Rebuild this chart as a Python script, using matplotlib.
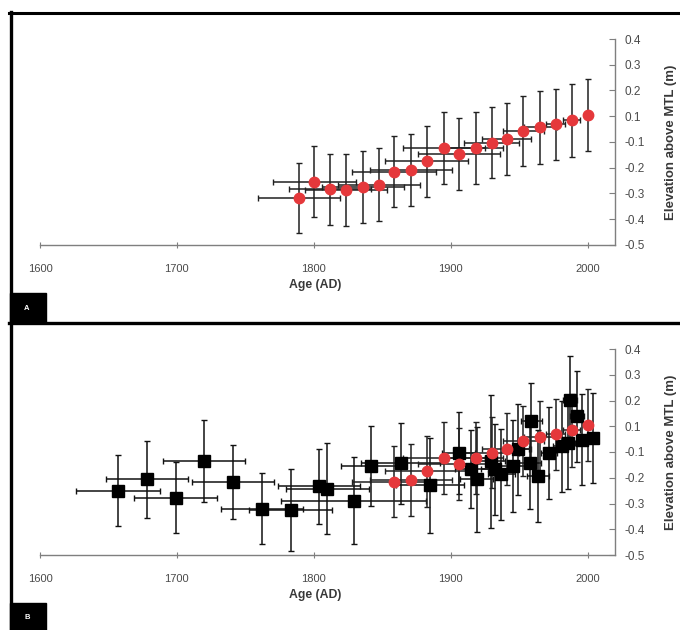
import matplotlib
matplotlib.use("Agg")
import matplotlib.pyplot as plt
from matplotlib.lines import Line2D
from matplotlib.patches import Rectangle
import numpy as np

plt.rcParams['font.family'] = ['Liberation Sans', 'DejaVu Sans']

# ---- Data: reconstructed sea level (red circles) ----
red_age = [1789, 1800.5, 1811.7, 1823.7, 1835.9, 1847.6, 1858.5, 1870.7, 1882.4, 1895,
           1906.3, 1918.3, 1929.8, 1941, 1953, 1965.4, 1976.8, 1988.3, 2000]
red_elev = [-0.295, -0.223, -0.256, -0.259, -0.246, -0.237, -0.180, -0.172, -0.134, -0.076,
            -0.102, -0.076, -0.054, -0.037, -0.001, 0.015, 0.028, 0.044, 0.068]
red_yerr = [0.154, 0.156, 0.155, 0.157, 0.156, 0.159, 0.155, 0.157, 0.156, 0.159,
            0.159, 0.156, 0.155, 0.159, 0.153, 0.159, 0.155, 0.160, 0.158]
red_xerr = [30, 30.5, 30, 30, 30, 30, 30.7, 30, 30.5, 30,
            30, 20, 20, 18, 15, 12, 7, 6, 0]
# points shown again in panel B (index from 1858 onward)
red_b_start = 6

# ---- Data: other records (black squares, panel B) ----
blk_age = [1657, 1678, 1699, 1720, 1741, 1762, 1783, 1804, 1810, 1829,
           1842, 1863.5, 1885, 1906, 1915, 1919, 1929.5, 1932, 1937, 1945.6,
           1949, 1958, 1959, 1964, 1972, 1981, 1986, 1987, 1992, 1996, 2004]
blk_elev = [-0.220, -0.170, -0.249, -0.090, -0.181, -0.297, -0.304, -0.200, -0.210, -0.262,
            -0.112, -0.100, -0.196, -0.054, -0.126, -0.170, -0.090, -0.126, -0.148, -0.112,
            -0.039, -0.097, 0.084, -0.155, -0.054, -0.025, -0.010, 0.178, 0.106, 0.004, 0.012]
blk_yerr = [0.155, 0.170, 0.157, 0.179, 0.161, 0.156, 0.179, 0.165, 0.200, 0.190,
            0.174, 0.176, 0.209, 0.180, 0.170, 0.230, 0.290, 0.200, 0.200, 0.200,
            0.200, 0.200, 0.167, 0.200, 0.200, 0.200, 0.200, 0.190, 0.200, 0.200, 0.196]
blk_xerr = [30.5, 30, 30.5, 30, 30, 30, 30.5, 30, 30, 53,
            22, 29, 25, 12, 12, 12, 10, 10, 10, 10,
            8, 8, 8, 8, 6, 6, 5, 5, 5, 4, 3]

x_ticks = [1600, 1700, 1800, 1900, 2000]
y_ticks = list(np.linspace(-0.5, 0.4, 9))
y_ticklabels = ['-0.5', '-0.4', '-0.3', '-0.2', '-0.1', '0.1', '0.2', '0.3', '0.4']

W, H = 680, 630
fig = plt.figure(figsize=(W / 100, H / 100), dpi=100)
fig.patch.set_facecolor('white')

RED = '#e5383b'
GRAY = '#7f7f7f'
TXT = '#4a4a4a'


def fx(px):
    return px / W


def fy(py):
    return 1 - py / H


def style_axes(ax):
    ax.set_xlim(1600, 2020)
    ax.set_ylim(-0.5, 0.4)
    for s in ['top', 'left']:
        ax.spines[s].set_visible(False)
    for s in ['bottom', 'right']:
        ax.spines[s].set_color(GRAY)
        ax.spines[s].set_linewidth(1.0)
    ax.yaxis.tick_right()
    ax.yaxis.set_label_position('right')
    ax.set_xticks(x_ticks)
    ax.set_xticklabels([str(t) for t in x_ticks])
    ax.set_yticks(y_ticks)
    ax.set_yticklabels(y_ticklabels)
    ax.tick_params(axis='x', direction='inout', length=5, color=GRAY, pad=11,
                   labelsize=8, labelcolor=TXT)
    ax.tick_params(axis='y', direction='in', length=4, color=GRAY, pad=7,
                   labelsize=8.5, labelcolor=TXT)
    ax.set_xlabel('Age (AD)', fontsize=8.8, fontweight='bold', color='#383838')
    ax.xaxis.set_label_coords(0.478, -0.165)
    ax.set_ylabel('Elevation above MTL (m)', fontsize=9.5, fontweight='bold',
                  color='#383838', rotation=90, labelpad=14)
    ax.patch.set_alpha(0)


def draw_red(ax, start=0):
    ax.errorbar(red_age[start:], red_elev[start:], yerr=red_yerr[start:],
                xerr=red_xerr[start:], fmt='none', ecolor='#202020',
                elinewidth=1.1, capsize=2.2, capthick=1.0, zorder=3)
    ax.plot(red_age[start:], red_elev[start:], 'o', color=RED, markersize=7.5,
            markeredgecolor=RED, zorder=6, linestyle='none')


# Panel A
axA = fig.add_axes([fx(40), fy(245), fx(615) - fx(40), fy(39) - fy(245)])
style_axes(axA)
draw_red(axA)

# Panel B
axB = fig.add_axes([fx(40), fy(555), fx(615) - fx(40), fy(349) - fy(555)])
style_axes(axB)
axB.errorbar(blk_age, blk_elev, yerr=blk_yerr, xerr=blk_xerr, fmt='none',
             ecolor='#111111', elinewidth=1.1, capsize=2.2, capthick=1.0, zorder=2)
axB.plot(blk_age, blk_elev, 's', color='black', markersize=8, zorder=4,
         linestyle='none')
draw_red(axB, red_b_start)


# Frame lines and panel labels
def hline(y, x0, x1, lw):
    fig.add_artist(Line2D([fx(x0), fx(x1)], [fy(y), fy(y)], color='black',
                          linewidth=lw, transform=fig.transFigure))


def vline(x, y0, y1, lw):
    fig.add_artist(Line2D([fx(x), fx(x)], [fy(y0), fy(y1)], color='black',
                          linewidth=lw, transform=fig.transFigure))


hline(12.5, 9, 680, 2.2)
hline(323, 9, 680, 2.4)
vline(10.5, 11.5, 630, 2.4)

for (y0, y1, lab) in [(293, 323, 'A'), (603, 630, 'B')]:
    fig.add_artist(Rectangle((fx(9.5), fy(y1)), fx(46) - fx(9.5), fy(y0) - fy(y1),
                             transform=fig.transFigure, facecolor='black',
                             edgecolor='black'))
    fig.text(fx(27), fy((y0 + y1) / 2 + 1), lab, color='white', fontsize=5.5,
             fontweight='bold', ha='center', va='center')

fig.savefig('out.png', dpi=100, facecolor='white')
